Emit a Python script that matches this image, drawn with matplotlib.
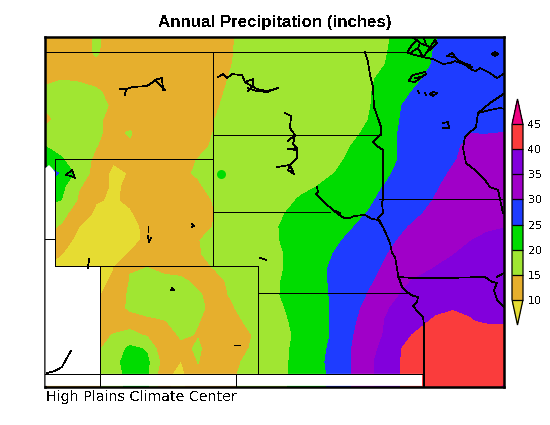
#!/usr/bin/env python3
"""Annual precipitation map of the High Plains, GrADS look."""

import matplotlib
matplotlib.use("Agg")
import matplotlib.pyplot as plt
import numpy as np

plt.rcParams["text.antialiased"] = False
plt.rcParams["font.family"] = "DejaVu Sans"

LEVELS = [10, 15, 20, 25, 30, 35, 40, 45]
COLORS = ["#E6DC32", "#E6AF2D", "#A0E632", "#00DC00", "#1E3CFF",
          "#A000C8", "#8200DC", "#FA3C3C", "#F00082"]

# inches on a regular lon/lat grid
lon_grid = -111.5 + 0.752 * np.arange(28)
lat_grid = 49.5 - 0.5 * np.arange(27)
precip = np.array([
    [13, 9.8, 13, 15.5, 13.5, 13.5, 13.5, 14, 14, 14, 14.2, 14.8, 16.4, 17, 17.5, 18, 18, 18.5, 19, 19.2, 19.5, 21.2, 23, 24.8, 26.5, 27, 27.5, 27.5],
    [13, 12, 14, 15.3, 14, 13.5, 13.5, 14, 14, 14, 14, 14.8, 16.5, 17, 17.5, 18, 18, 18.5, 19, 19, 19.7, 21.4, 23.6, 25.3, 27, 27, 27.5, 27.5],
    [13, 12.5, 14, 14.5, 14, 13.5, 13.5, 14, 14, 14, 13.3, 15, 16.7, 17.5, 18, 18, 18.5, 18.5, 19, 19.3, 20, 21.7, 23.8, 25.5, 27, 27.5, 28, 28],
    [14.5, 14.9, 14.7, 14, 13.5, 13, 13, 13.5, 13.5, 13.5, 13.7, 15.4, 17, 17.5, 18, 18, 18.5, 18.5, 19, 19.3, 21, 22.9, 24.6, 26.3, 27, 27.5, 28, 28],
    [15.5, 15.8, 15.8, 15.5, 14, 13, 13, 13, 13, 13.5, 14.1, 15.8, 17, 17.5, 18, 18, 18.5, 18.5, 18.5, 19.6, 21.3, 24, 25.8, 27, 27.5, 28, 28, 28],
    [15.3, 16, 16.5, 16, 14.6, 13.5, 13, 13, 13, 13.5, 14.5, 16.2, 17, 17.5, 18, 18, 18.5, 18.5, 18.5, 19.7, 21.4, 25, 26.7, 27.5, 27.5, 28, 28, 28.5],
    [14.3, 15.9, 16.5, 15.7, 14, 13.7, 13, 13, 13, 13.5, 15, 16.7, 17.5, 17.5, 18, 18, 18.5, 18.5, 18.5, 19.9, 23.5, 25.2, 27, 27.5, 28, 28, 28.5, 28.5],
    [15.5, 16, 16.5, 15.3, 14.5, 15.2, 13.5, 13, 13, 13.5, 15.2, 17, 17.5, 17.5, 18, 18, 18.5, 18.5, 19, 20.7, 23.7, 25.4, 27, 28, 29, 29.9, 29.8, 30],
    [20, 18.5, 17, 15.1, 14, 14.7, 13.5, 13, 13, 13.9, 15.6, 17, 17.5, 18, 18, 18.5, 18.5, 19, 20, 21.7, 23.7, 25.4, 27, 28, 29.2, 30.9, 31.5, 31],
    [23, 20.3, 16.5, 14.4, 10.5, 13, 13.5, 13.5, 14, 15.1, 16.5, 17, 17.5, 18, 18, 18.5, 18.5, 19, 20.7, 22.4, 23.7, 25.4, 27, 28, 29.6, 31.3, 32, 32],
    [27, 24.5, 18, 13, 9, 10.2, 13, 14, 14.5, 15.3, 16.5, 17, 17.5, 18, 18, 18.5, 18.5, 19.9, 21.6, 23.3, 24.3, 26, 27.5, 28.8, 30.5, 32, 33, 33],
    [24.5, 21, 15.3, 13, 9, 11, 13, 13.5, 14, 14.6, 16, 17, 17.5, 18, 18.5, 19, 20, 21.7, 22.5, 24.3, 25.1, 26.8, 27.9, 29.6, 31.3, 32, 33, 33],
    [22, 19.8, 14.3, 10.4, 9.5, 10.7, 13, 13.5, 14, 13.7, 15.3, 17, 18, 18.5, 18.7, 20.4, 22, 23, 23.5, 24.3, 26, 27.5, 28.6, 30.3, 31.5, 32, 33, 33.5],
    [17, 16, 13, 9, 8.5, 9.5, 12, 13.5, 14, 14, 15, 16.7, 17.5, 18.5, 19.8, 21.5, 22.5, 23.5, 24.3, 25.1, 26.8, 27.9, 29.6, 31.3, 32.5, 33, 33.5, 33.5],
    [16, 14.5, 10, 8.5, 8.5, 9, 10.7, 13, 14, 14, 15.2, 16.9, 17.5, 18.7, 20.4, 21.5, 22.5, 23, 24.7, 26.4, 27.7, 29.4, 31.1, 32.5, 33, 33.5, 34, 34.8],
    [12, 12, 8.5, 8, 8, 8.5, 11, 13, 14, 14.8, 16.5, 17, 17.5, 18.6, 20.3, 21.5, 22.5, 24.2, 25.9, 27, 28.8, 30.5, 32, 33, 33.1, 34.8, 36.5, 37],
    [12, 10, 8.5, 8, 8.5, 10.3, 12.5, 13.5, 14, 14.6, 16.3, 17, 17.5, 18.2, 19.9, 21.6, 23.4, 25.1, 26.5, 28, 29.7, 31.4, 33, 33.5, 34.8, 36.5, 37, 37],
    [10, 9, 8.5, 8.5, 9.8, 14.8, 15, 14, 14, 14, 15.2, 16.9, 17.5, 18.2, 19.9, 21.6, 23.9, 25.6, 27, 28.7, 30.4, 32, 33.4, 35.1, 36.5, 37, 37.5, 37.5],
    [10, 9, 9, 9, 10.4, 15.2, 16.5, 16, 15.5, 14.3, 14, 15.7, 17, 18.5, 20.2, 21.9, 23.9, 25.6, 27.6, 29.4, 31, 34.1, 35.8, 37.5, 38.5, 38.5, 38.5, 38.5],
    [9, 9, 9, 9, 12, 15.7, 16.5, 16.5, 16.5, 15.3, 14, 15.3, 17, 18.6, 20.3, 22, 23.8, 25.5, 27.5, 30.1, 32.5, 35.3, 37, 38, 38.5, 39, 39, 39],
    [12, 12, 12, 12, 13.5, 15.5, 16.5, 17, 17, 15.7, 14, 14.7, 16.4, 18, 19.8, 21.5, 23.7, 25.4, 29, 30.7, 34.5, 36.2, 38, 39, 39.5, 39.5, 39.5, 39],
    [13, 13, 13, 13, 13.5, 13.5, 14, 14.7, 16.5, 15.1, 14, 13.9, 15.6, 17.7, 19.4, 21.1, 23.7, 25.4, 29.4, 31.1, 35.1, 36.8, 39, 40.7, 42, 40.2, 39.5, 39.7],
    [13, 13, 13, 14, 15.1, 16, 14.5, 13, 15.5, 14.8, 13.5, 13.5, 14.7, 16.4, 19.1, 20.8, 23.7, 25.4, 29.7, 31.4, 35.5, 39, 40.7, 42.4, 43, 43, 42, 41],
    [13, 13, 13, 14, 17, 21, 19.5, 11, 14, 15.5, 13, 13.3, 15, 16.9, 19.3, 21, 24, 25.7, 29.8, 34, 35.7, 40, 41.7, 43, 43.5, 43.5, 43, 42],
    [13, 13, 13, 14, 18, 22.5, 21, 13, 9.8, 15.1, 13, 14.1, 15.8, 17.7, 19.4, 21.1, 24.2, 25.9, 29.8, 34.2, 36.4, 40.3, 42, 43, 43.5, 44, 44, 43.5],
    [13, 13, 13, 14, 17, 22, 21, 11, 8.5, 14, 13.5, 14.5, 16.2, 17.8, 19.5, 21.2, 24, 25.7, 29.8, 34.2, 36.2, 40.4, 42.1, 43.5, 44, 44.2, 44.3, 44.5],
    [13, 13, 13, 14, 17, 22, 21, 11, 8.5, 14, 13.5, 14.5, 16.2, 17.8, 19.5, 21.2, 24, 25.7, 29.8, 34.2, 36.2, 40.4, 42.1, 43.5, 44, 44.2, 44.5, 45.2],
])

# one small isolated wet spot too tight for the grid
spot_lon = [-103.71]
spot_lat = [44.48]


def traced(points):
    pts = np.asarray(points, dtype=float)
    return -111.5 + (pts[:, 0] - 45) / 22.6, 49.5 - (pts[:, 1] - 38) / 27.0


BORDERS = [
    [(45, 52), (408, 52)],
    [(55, 159), (213, 159)],
    [(213, 134.5), (381, 134.5)],
    [(213, 52), (213, 266)],
    [(55, 159), (55, 266), (258, 266), (258, 272), (258.5, 272), (258.5, 374)],
    [(45, 239), (55, 239)],
    [(100, 266), (100, 387)],
    [(45, 374), (424, 374)],
    [(236, 374), (236, 387)],
    [(213, 212), (330, 212)],
    [(258.5, 293), (407, 293)],
    [(379, 199), (502, 199)],
    # Missouri river down to the Kansas line
    [(317, 187), (318, 192), (316, 194), (325, 203), (333, 210), (338, 214), (344, 218),
     (350, 218), (354, 216), (365, 215), (372, 219), (378, 220), (383, 227), (387, 236),
     (390, 243), (392, 253), (395, 257), (397, 268), (398, 275), (402, 287), (407, 292),
     (413, 296), (418, 297), (417, 302), (413, 306), (418, 312), (423, 317), (424, 325),
     (424, 387)],
    [(316, 194), (325, 203), (333, 210), (340, 213)],
    # Iowa / Missouri
    [(398, 277), (413, 278), (448, 278), (485, 277), (492, 282), (497, 283), (494, 290),
     (497, 300), (504, 307)],
    [(497, 277), (504, 273)],
    # Red river, Minnesota west
    [(365, 52), (368, 62), (370, 75), (373, 87), (374, 107), (378, 118), (381, 127),
     (381, 134), (373, 142), (377, 146), (383, 150), (383, 199), (382, 203), (383, 213),
     (378, 218), (383, 227)],
    # Lake Superior shore, Wisconsin and Illinois
    [(408, 53), (423, 57), (433, 59), (443, 64), (450, 63), (455, 61), (464, 64), (472, 70),
     (476, 71), (480, 68), (490, 73), (497, 78), (505, 73)],
    [(447, 56), (452, 53), (458, 60), (470, 66)],
    [(447, 56), (455, 57), (460, 62), (472, 67)],
    [(458, 60), (464, 63), (470, 65)],
    [(505, 93), (490, 103), (478, 113), (476, 127), (468, 134), (465, 137), (463, 148),
     (466, 163), (475, 170), (485, 180), (490, 187), (498, 190), (500, 199), (503, 213)],
    [(478, 113), (490, 110), (500, 108), (505, 109)],
    # Lake of the Woods
    [(408, 51), (412, 45), (417, 40), (413, 38)],
    [(417, 40), (420, 43), (430, 47), (435, 40), (437, 43), (432, 48), (427, 52), (423, 57)],
    [(423, 57), (418, 48), (410, 53)],
    [(420, 43), (418, 48)],
    [(430, 47), (427, 52)],
    [(424, 38), (426, 44)],
    # lakes
    [(409, 80), (413, 75), (425, 72), (426, 74), (420, 78), (415, 82), (409, 81)],
    [(415, 78), (420, 77)],
    [(418, 91), (419, 93)],
    [(425, 93), (426, 95)],
    [(430, 94), (433, 92), (437, 93), (433, 96), (430, 94)],
    [(443, 123), (448, 122), (449, 128), (443, 128)],
    [(492, 54), (495, 52), (498, 54), (495, 56), (492, 54)],
    # Fort Peck
    [(120, 89), (126, 89), (125, 95)],
    [(126, 89), (132, 87), (147, 86), (153, 82), (157, 79), (162, 78), (163, 90)],
    [(155, 80), (160, 85), (165, 90)],
    # Sakakawea
    [(218, 77), (223, 74), (227, 78), (232, 74), (242, 75), (245, 82), (253, 79), (253, 85),
     (248, 91)],
    [(245, 82), (250, 85), (257, 89), (267, 91), (278, 88), (267, 92), (257, 91), (248, 88)],
    # Oahe
    [(285, 113), (291, 116), (290, 128), (295, 135), (288, 141)],
    [(295, 135), (293, 144), (297, 148), (288, 149), (297, 150), (297, 158), (290, 165),
     (277, 167)],
    [(290, 165), (294, 174), (288, 170), (290, 165)],
    [(66, 175), (72, 170), (75, 178), (71, 176), (66, 175)],
    [(148, 226), (148, 232)],
    [(148, 236), (149, 242), (151, 238)],
    [(192, 224), (194, 226), (192, 227)],
    [(89, 259), (88, 268)],
    [(172, 288), (174, 290), (171, 290), (172, 288)],
    [(234, 345), (240, 345)],
    [(260, 258), (266, 260)],
    [(71, 351), (68, 356), (62, 367), (55, 371), (47, 373)],
]

# outside the analysis domain
MASK = [(45.5, 168), (49, 165), (52, 168), (55, 172), (55, 266), (100, 266), (100, 374),
        (422, 374), (422, 386), (45.5, 386)]


fig = plt.figure(figsize=(5.5, 4.25), dpi=100)
ax = fig.add_axes([45 / 550, 1 - 387 / 425, 459 / 550, 350 / 425])

filled = ax.contourf(lon_grid, lat_grid, precip, levels=LEVELS, colors=COLORS,
                     extend="both", antialiased=False)
ax.scatter(spot_lon, spot_lat, s=42, c=COLORS[3], linewidths=0, zorder=2)

mask_lon, mask_lat = traced(MASK)
ax.fill(mask_lon, mask_lat, color="white", lw=0, zorder=3)

for line in BORDERS:
    line_lon, line_lat = traced(line)
    ax.plot(line_lon, line_lat, color="black", lw=0.5, antialiased=False, zorder=4)

ax.set_xlim(-111.5, -91.19)
ax.set_ylim(36.57, 49.54)
ax.set_xticks([])
ax.set_yticks([])
for spine in ax.spines.values():
    spine.set_linewidth(1.8)

# bar body spans y 125-300, the tips reach 99 and 325
cax = fig.add_axes([512 / 550, 1 - 325 / 425, 11 / 550, 226 / 425])
bar = fig.colorbar(filled, cax=cax, extendfrac=0.145, drawedges=True)
bar.set_ticks(LEVELS)
bar.ax.tick_params(length=0, pad=3.5, labelsize=8)
bar.outline.set_linewidth(0.9)
bar.dividers.set_linewidth(0.9)

fig.text(275 / 550, 1 - 23 / 425, "Annual Precipitation (inches)", ha="center", va="center",
         fontsize=12.2, fontweight="bold", family="Liberation Sans")
fig.text(46 / 550, 1 - 396.5 / 425, "High Plains Climate Center", ha="left", va="center",
         fontsize=10.3)

fig.savefig("out.png", dpi=100)
